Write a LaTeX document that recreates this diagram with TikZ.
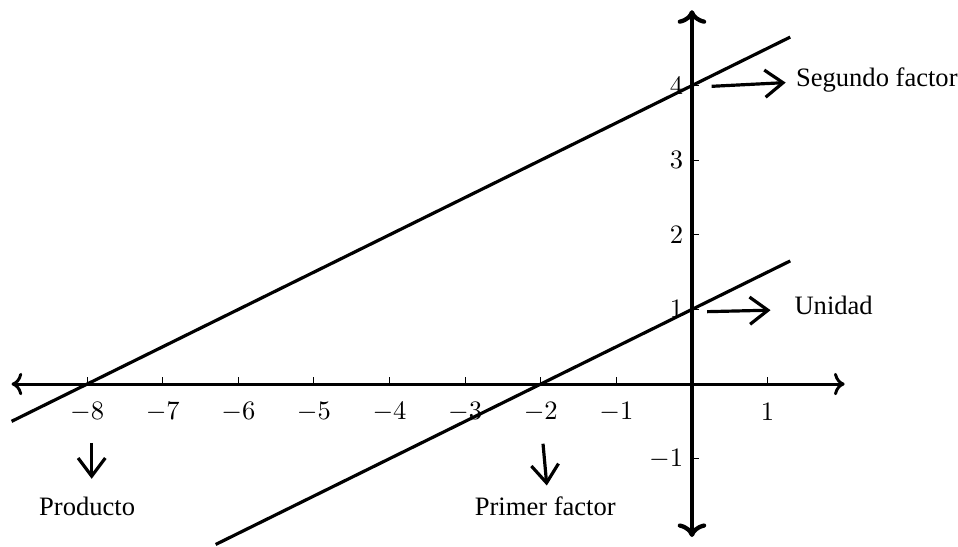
\documentclass[tikz,border=0pt]{standalone}
\usepackage{fontspec}
\newfontfamily\labfont{Liberation Serif}
\usetikzlibrary{arrows.meta}
\begin{document}
\begin{tikzpicture}[x=1cm,y=0.987cm,
  axisline/.style={line width=1.1pt,<->},
  graphline/.style={line width=1.2pt},
  ticklab/.style={inner sep=0pt},
  note/.style={font=\labfont, inner sep=0pt},
  notearrow/.style={line width=1.2pt,-{Straight Barb[length=2.4mm,width=3.6mm]}}]
\useasboundingbox (-9.153,-2.172) rectangle (3.519,5.147);
% axes
\coordinate (xl) at (-9,0); \coordinate (xr) at (2.02,0);
\coordinate (yb) at (0,-2.05); \coordinate (yt) at (0,5.01);
\draw[axisline] (xl) -- (xr);
\draw[axisline,line width=1.6pt] (yb) -- (yt);
% ticks
\foreach \i in {-8,...,-1,1} {
  \draw[thin] (\i,0) -- (\i,0.09);
  \node[ticklab] (tx\i) at (\i,-0.37) {$\i$};
}
\foreach \j in {-1,1,2,3,4} {
  \draw[thin] (0,\j) -- (0.09,\j);
  \node[ticklab,anchor=east] (ty\j) at (-0.11,\j) {$\j$};
}
% lines
\coordinate (a1) at (-9,-0.5); \coordinate (a2) at (1.3,4.65);
\coordinate (b1) at (-6.3,-2.15); \coordinate (b2) at (1.3,1.65);
\draw[graphline] (a1) -- (a2);
\draw[graphline] (b1) -- (b2);
% annotations
\node[note,anchor=west] (seg) at (1.37,4.07) {Segundo factor};
\node[note,anchor=west] (uni) at (1.35,1.06) {Unidad};
\node[note] (prod) at (-8.0,-1.64) {Producto};
\node[note] (prim) at (-1.94,-1.64) {Primer factor};
\coordinate (s1) at (0.26,3.99); \coordinate (s2) at (1.24,4.04);
\coordinate (u1) at (0.2,0.97); \coordinate (u2) at (1.04,0.99);
\coordinate (p1) at (-7.94,-0.79); \coordinate (p2) at (-7.94,-1.27);
\coordinate (q1) at (-1.97,-0.8); \coordinate (q2) at (-1.92,-1.36);
\draw[notearrow] (s1) -- (s2);
\draw[notearrow] (u1) -- (u2);
\draw[notearrow] (p1) -- (p2);
\draw[notearrow] (q1) -- (q2);
\end{tikzpicture}
\end{document}
